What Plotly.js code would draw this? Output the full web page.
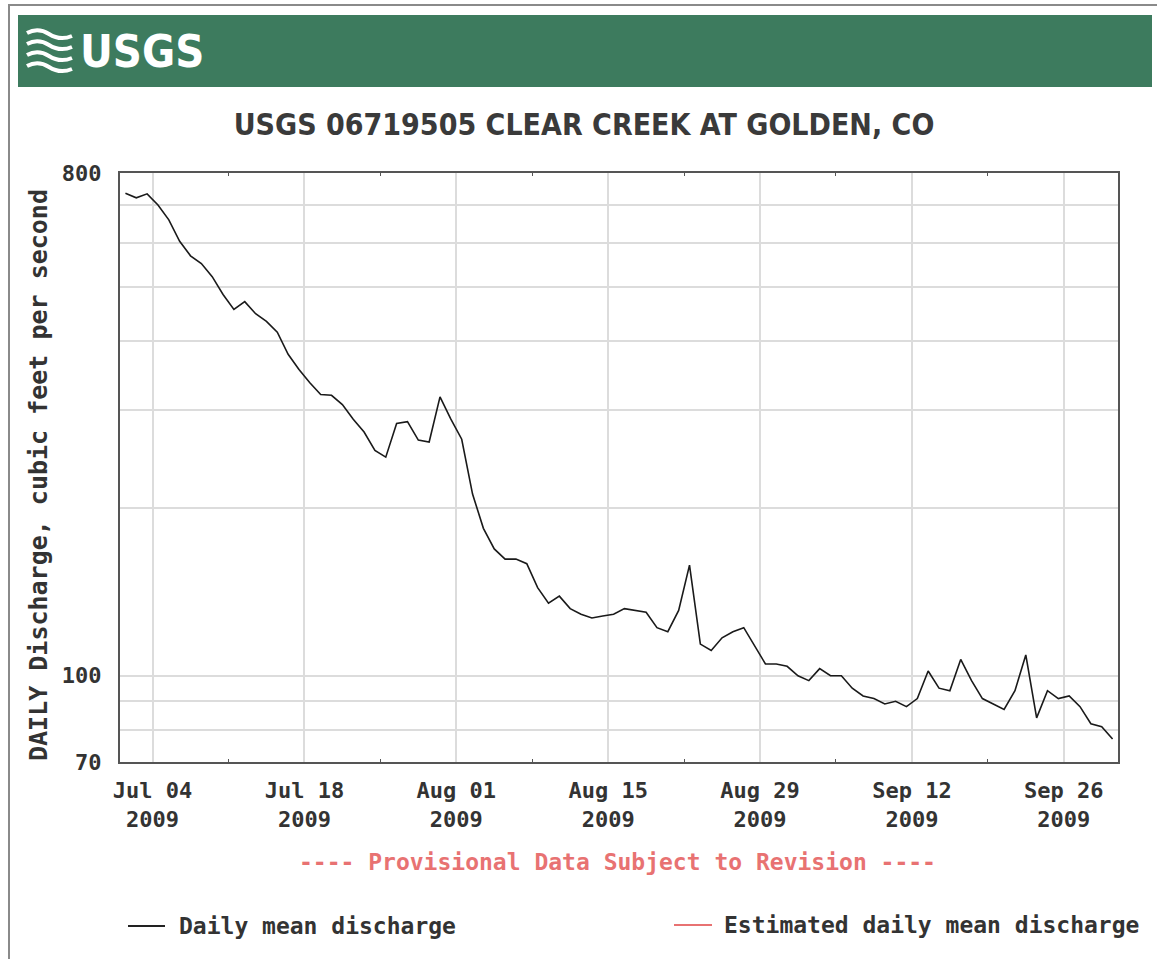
<!DOCTYPE html>
<html>
<head>
<meta charset="utf-8">
<script src="https://cdn.plot.ly/plotly-3.0.1.min.js"></script>
<style>
html,body{margin:0;padding:0;background:#ffffff;}
#chart{width:1157px;height:959px;}
</style>
</head>
<body>
<div id="chart"></div>
<script>
// ---- Data ----
const dates = [
  '2009-07-01 12:00','2009-07-02 12:00','2009-07-03 12:00','2009-07-04 12:00','2009-07-05 12:00','2009-07-06 12:00','2009-07-07 12:00','2009-07-08 12:00',
  '2009-07-09 12:00','2009-07-10 12:00','2009-07-11 12:00','2009-07-12 12:00','2009-07-13 12:00','2009-07-14 12:00','2009-07-15 12:00','2009-07-16 12:00',
  '2009-07-17 12:00','2009-07-18 12:00','2009-07-19 12:00','2009-07-20 12:00','2009-07-21 12:00','2009-07-22 12:00','2009-07-23 12:00','2009-07-24 12:00',
  '2009-07-25 12:00','2009-07-26 12:00','2009-07-27 12:00','2009-07-28 12:00','2009-07-29 12:00','2009-07-30 12:00','2009-07-31 12:00',
  '2009-08-01 12:00','2009-08-02 12:00','2009-08-03 12:00','2009-08-04 12:00','2009-08-05 12:00','2009-08-06 12:00','2009-08-07 12:00','2009-08-08 12:00',
  '2009-08-09 12:00','2009-08-10 12:00','2009-08-11 12:00','2009-08-12 12:00','2009-08-13 12:00','2009-08-14 12:00','2009-08-15 12:00','2009-08-16 12:00',
  '2009-08-17 12:00','2009-08-18 12:00','2009-08-19 12:00','2009-08-20 12:00','2009-08-21 12:00','2009-08-22 12:00','2009-08-23 12:00','2009-08-24 12:00',
  '2009-08-25 12:00','2009-08-26 12:00','2009-08-27 12:00','2009-08-28 12:00','2009-08-29 12:00','2009-08-30 12:00','2009-08-31 12:00',
  '2009-09-01 12:00','2009-09-02 12:00','2009-09-03 12:00','2009-09-04 12:00','2009-09-05 12:00','2009-09-06 12:00','2009-09-07 12:00','2009-09-08 12:00',
  '2009-09-09 12:00','2009-09-10 12:00','2009-09-11 12:00','2009-09-12 12:00','2009-09-13 12:00','2009-09-14 12:00','2009-09-15 12:00','2009-09-16 12:00',
  '2009-09-17 12:00','2009-09-18 12:00','2009-09-19 12:00','2009-09-20 12:00','2009-09-21 12:00','2009-09-22 12:00','2009-09-23 12:00','2009-09-24 12:00',
  '2009-09-25 12:00','2009-09-26 12:00','2009-09-27 12:00','2009-09-28 12:00','2009-09-29 12:00','2009-09-30 12:00'
];
const discharge = [
  736, 722, 734, 701, 659, 603, 568, 550, 521, 484, 455, 470, 447, 433, 414, 378,
  355, 336, 320, 319, 307, 289, 274, 254, 247, 284, 286, 265, 263, 317, 289,
  266, 212, 184, 169, 162, 162, 159, 144, 135, 139, 132, 129, 127, 128, 129,
  132, 131, 130, 122, 120, 131, 158, 114, 111, 117, 120, 122, 113, 105, 105,
  104, 100, 98, 103, 100, 100, 95, 92, 91, 89, 90, 88, 91, 102, 95,
  94, 107, 98, 91, 89, 87, 94, 109, 84, 94, 91, 92, 88, 82, 81, 77
];
const xRange = ['2009-07-01', '2009-10-01'];
const xTickVals = ['2009-07-04','2009-07-18','2009-08-01','2009-08-15','2009-08-29','2009-09-12','2009-09-26'];
const xTickText = ['Jul 04<br>2009','Jul 18<br>2009','Aug 01<br>2009','Aug 15<br>2009','Aug 29<br>2009','Sep 12<br>2009','Sep 26<br>2009'];
const xMinorVals = ['2009-07-11','2009-07-25','2009-08-08','2009-08-22','2009-09-05','2009-09-19'];
const yMin = 70, yMax = 800;
const yTickVals = [70, 80, 90, 100, 200, 300, 400, 500, 600, 700, 800];
const yTickText = ['70', '', '', '100', '', '', '', '', '', '', '800'];

const chartTitle = 'USGS 06719505 CLEAR CREEK AT GOLDEN, CO';
const yTitle = 'DAILY Discharge, cubic feet per second';
const provisionalNote = '---- Provisional Data Subject to Revision ----';
const seriesName = 'Daily mean discharge';
const estName = 'Estimated daily mean discharge';

// ---- Layout helpers ----
const W = 1157, H = 959, ML = 120, MR = 39, MT = 173, MB = 197;
const PW = W - ML - MR, PH = H - MT - MB;
const px = x => (x - ML) / PW;
const py = y => (H - MB - y) / PH;
const pt = (x, y) => px(x).toFixed(5) + ',' + py(y).toFixed(5);

const MONO = "'DejaVu Sans Mono', 'Liberation Mono', monospace";
const NARROW = "'DejaVu Sans Condensed', 'Liberation Sans Narrow', 'Arial Narrow', sans-serif";
const TXT = '#333333';
const RED = '#e87272';

const iconPaths = [];
for (let i = 0; i < 4; i++) {
  const y0 = 33 + i * 11;
  iconPaths.push({
    type: 'path', xref: 'paper', yref: 'paper',
    path: 'M ' + pt(27, y0) + ' Q ' + pt(38, y0 - 6) + ' ' + pt(49, y0 + 1) + ' T ' + pt(72, y0 + 3),
    line: {color: '#ffffff', width: 4}
  });
}

const shapes = [
  // outer frame
  {type: 'line', xref: 'paper', yref: 'paper', x0: px(8), x1: px(1157), y0: py(5), y1: py(5), line: {color: '#8a8a8a', width: 2}},
  {type: 'line', xref: 'paper', yref: 'paper', x0: px(9), x1: px(9), y0: py(5), y1: py(959), line: {color: '#8a8a8a', width: 2}},
  // banner
  {type: 'rect', xref: 'paper', yref: 'paper', x0: px(18), x1: px(1152), y0: py(87), y1: py(15), fillcolor: '#3d7b5e', line: {width: 0}, layer: 'below'},
  ...iconPaths,
  // legend keys
  {type: 'line', xref: 'paper', yref: 'paper', x0: px(128), x1: px(165), y0: py(926), y1: py(926), line: {color: '#222222', width: 2}},
  {type: 'line', xref: 'paper', yref: 'paper', x0: px(674), x1: px(712), y0: py(925), y1: py(925), line: {color: RED, width: 2}}
];

const annotations = [
  {xref: 'paper', yref: 'paper', x: px(78), y: py(52), xanchor: 'left', yanchor: 'middle', showarrow: false,
   text: '<b>USGS</b>', font: {family: NARROW, size: 45, color: '#ffffff'}},
  {xref: 'paper', yref: 'paper', x: px(38), y: py(475), xanchor: 'center', yanchor: 'middle', showarrow: false, textangle: -90,
   text: yTitle, font: {family: MONO, size: 25, color: TXT, weight: 'bold'}},
  {xref: 'paper', yref: 'paper', x: px(617), y: py(862), xanchor: 'center', yanchor: 'middle', showarrow: false,
   text: provisionalNote, font: {family: MONO, size: 23, color: RED, weight: 'bold'}},
  {xref: 'paper', yref: 'paper', x: px(177), y: py(926), xanchor: 'left', yanchor: 'middle', showarrow: false,
   text: seriesName, font: {family: MONO, size: 23, color: TXT, weight: 'bold'}},
  {xref: 'paper', yref: 'paper', x: px(722), y: py(925), xanchor: 'left', yanchor: 'middle', showarrow: false,
   text: estName, font: {family: MONO, size: 23, color: TXT, weight: 'bold'}}
];

const trace = {
  type: 'scatter', mode: 'lines', name: seriesName,
  x: dates, y: discharge,
  line: {color: '#1a1a1a', width: 1.6},
  showlegend: false, hoverinfo: 'x+y'
};

const layout = {
  width: W, height: H,
  margin: {l: ML, r: MR, t: MT, b: MB, pad: 0},
  paper_bgcolor: '#ffffff', plot_bgcolor: '#ffffff',
  showlegend: false,
  title: {
    text: chartTitle, x: px(584), xref: 'paper', xanchor: 'center',
    y: 1 - 124 / H, yref: 'container', yanchor: 'middle',
    font: {family: NARROW, size: 30, color: '#3a3a3a', weight: 'bold'}
  },
  xaxis: {
    type: 'date', range: xRange, autorange: false,
    tickmode: 'array', tickvals: xTickVals, ticktext: xTickText,
    ticks: '', ticklabelstandoff: 8,
    tickfont: {family: MONO, size: 22, color: TXT, weight: 'bold'},
    showgrid: true, gridcolor: '#dcdcdc', gridwidth: 2,
    showline: true, linecolor: '#555555', linewidth: 2, mirror: 'ticks',
    minor: {tickmode: 'array', tickvals: xMinorVals, ticks: 'inside', ticklen: 3, tickcolor: '#555555', showgrid: false},
    zeroline: false, fixedrange: true
  },
  yaxis: {
    type: 'log', range: [Math.log10(yMin), Math.log10(yMax)], autorange: false,
    tickmode: 'array', tickvals: yTickVals, ticktext: yTickText,
    ticks: '', ticklabelstandoff: 12,
    tickfont: {family: MONO, size: 22, color: TXT, weight: 'bold'},
    showgrid: true, gridcolor: '#dcdcdc', gridwidth: 2,
    showline: true, linecolor: '#555555', linewidth: 2, mirror: true,
    zeroline: false, fixedrange: true
  },
  shapes: shapes,
  annotations: annotations
};

Plotly.newPlot('chart', [trace], layout, {displayModeBar: false, staticPlot: true});
</script>
</body>
</html>
